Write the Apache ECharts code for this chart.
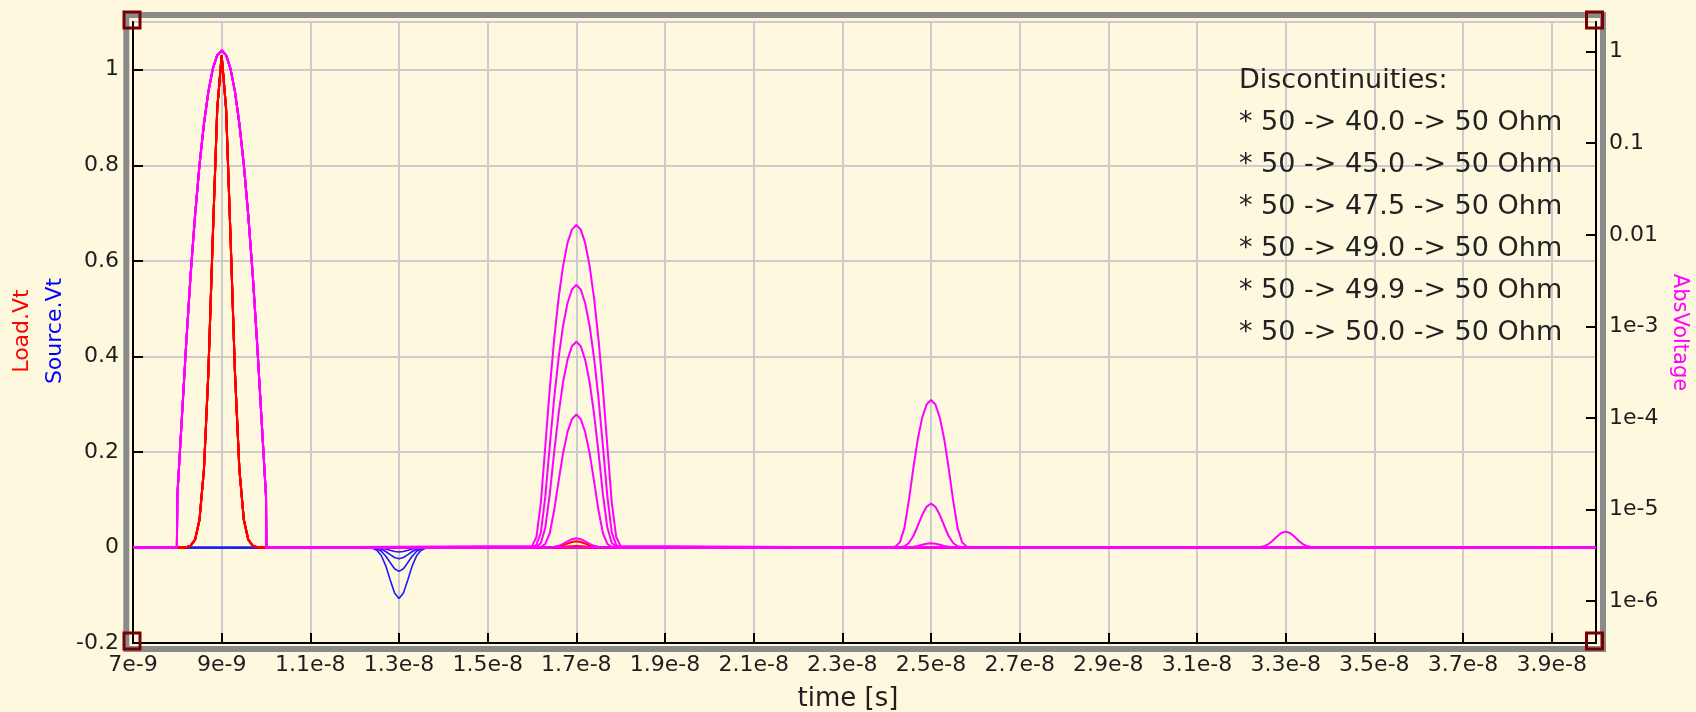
<!DOCTYPE html>
<html>
<head>
<meta charset="utf-8">
<script src="https://cdn.jsdelivr.net/npm/echarts@6/dist/echarts.min.js"></script>
<style>
html,body{margin:0;padding:0;background:#fef8df;}
#c{width:1696px;height:712px;}
</style>
</head>
<body>
<div id="c"></div>
<script>
// ---------- data (time in ns) ----------
const caseLabels = ['40.0', '45.0', '47.5', '49.0', '49.9', '50.0'];
const floorV = 3.85e-6;

const t9    = [8.0,8.1,8.2,8.3,8.4,8.5,8.6,8.7,8.8,8.9,9.0,9.1,9.2,9.3,9.4,9.5,9.6,9.7,9.8,9.9,10.0];
const tAbs9 = [7.99,8.0,8.1,8.2,8.3,8.4,8.5,8.6,8.7,8.8,8.9,9.0,9.1,9.2,9.3,9.4,9.5,9.6,9.7,9.8,9.9,10.0,10.01];
const t13   = [12.4,12.5,12.6,12.7,12.8,12.9,13.0,13.1,13.2,13.3,13.4,13.5,13.6];
const t17   = [16.0,16.1,16.2,16.3,16.4,16.5,16.6,16.7,16.8,16.9,17.0,17.1,17.2,17.3,17.4,17.5,17.6,17.7,17.8,17.9,18.0];
const t25   = [24.0,24.1,24.2,24.3,24.4,24.5,24.6,24.7,24.8,24.9,25.0,25.1,25.2,25.3,25.4,25.5,25.6,25.7,25.8,25.9,26.0];
const t33   = [32.4,32.5,32.6,32.7,32.8,32.9,33.0,33.1,33.2,33.3,33.4,33.5,33.6];

// Load.Vt main pulse (same for all cases)
const loadMain = [1.0e-5,9.2e-5,6.5e-4,3.7e-3,0.0163,0.058,0.163,0.366,0.650,0.918,1.03,0.918,0.650,0.366,0.163,0.058,0.0163,3.7e-3,6.5e-4,9.2e-5,1.0e-5];
// AbsVoltage main pulse
const absMain = [3.85e-6,1.4e-5,9.6e-5,6.5e-4,3.7e-3,0.0163,0.058,0.163,0.366,0.650,0.918,1.03,0.918,0.650,0.366,0.163,0.058,0.0163,3.7e-3,6.5e-4,9.6e-5,1.4e-5,3.85e-6];

// Source.Vt reflections at 13 ns (one row per case)
const src13 = [
  [-0.0017,-0.0060,-0.0169,-0.0380,-0.0675,-0.0953,-0.107,-0.0953,-0.0675,-0.0380,-0.0169,-0.0060,-0.0017],
  [-0.0008,-0.0028,-0.0079,-0.0178,-0.0316,-0.0446,-0.050,-0.0446,-0.0316,-0.0178,-0.0079,-0.0028,-0.0008],
  [-0.0004,-0.0013,-0.0037,-0.0084,-0.0149,-0.0210,-0.0236,-0.0210,-0.0149,-0.0084,-0.0037,-0.0013,-0.0004],
  [-0.0002,-0.0005,-0.0015,-0.0034,-0.0060,-0.0085,-0.0095,-0.0085,-0.0060,-0.0034,-0.0015,-0.0005,-0.0002],
  [0,-0.0001,-0.0002,-0.0004,-0.0006,-0.0009,-0.0010,-0.0009,-0.0006,-0.0004,-0.0002,-0.0001,0],
  []
];

// Load.Vt second arrival at 17 ns
const load17 = [
  [0,0,0,0,0.0002,0.0007,0.0020,0.0045,0.0081,0.0114,0.0128,0.0114,0.0081,0.0045,0.0020,0.0007,0.0002,0,0,0,0],
  [0,0,0,0,0,0.0002,0.0004,0.0010,0.0018,0.0025,0.0028,0.0025,0.0018,0.0010,0.0004,0.0002,0,0,0,0,0],
  [0,0,0,0,0,0,0.0001,0.0002,0.0004,0.0006,0.0007,0.0006,0.0004,0.0002,0.0001,0,0,0,0,0,0],
  [], [], []
];

// AbsVoltage at 17 ns
const abs17 = [
  [3.98e-6,5.0e-6,1.19e-5,4.9e-5,2.06e-4,7.2e-4,2.03e-3,4.55e-3,8.1e-3,0.0114,0.0128,0.0114,8.1e-3,4.55e-3,2.03e-3,7.2e-4,2.06e-4,4.9e-5,1.19e-5,5.0e-6,3.98e-6],
  [3.85e-6,4.1e-6,5.6e-6,1.39e-5,4.9e-5,1.64e-4,4.5e-4,1.01e-3,1.79e-3,2.53e-3,2.84e-3,2.53e-3,1.79e-3,1.01e-3,4.5e-4,1.64e-4,4.9e-5,1.39e-5,5.6e-6,4.1e-6,3.85e-6],
  [3.85e-6,3.9e-6,4.3e-6,6.3e-6,1.46e-5,4.2e-5,1.11e-4,2.45e-4,4.3e-4,6.07e-4,6.8e-4,6.07e-4,4.3e-4,2.45e-4,1.11e-4,4.2e-5,1.46e-5,6.3e-6,4.3e-6,3.9e-6,3.85e-6],
  [3.85e-6,3.85e-6,3.9e-6,4.2e-6,5.5e-6,9.8e-6,2.04e-5,4.1e-5,7.0e-5,9.7e-5,1.09e-4,9.7e-5,7.0e-5,4.1e-5,2.04e-5,9.8e-6,5.5e-6,4.2e-6,3.9e-6,3.85e-6,3.85e-6],
  [3.85e-6,3.85e-6,3.85e-6,3.85e-6,3.85e-6,3.91e-6,4.01e-6,4.21e-6,4.48e-6,4.74e-6,4.85e-6,4.74e-6,4.48e-6,4.21e-6,4.01e-6,3.91e-6,3.85e-6,3.85e-6,3.85e-6,3.85e-6,3.85e-6],
  []
];

// AbsVoltage at 25 ns
const abs25 = [
  [3.85e-6,3.86e-6,3.95e-6,4.4e-6,6.3e-6,1.25e-5,2.8e-5,5.8e-5,1.0e-4,1.40e-4,1.57e-4,1.40e-4,1.0e-4,5.8e-5,2.8e-5,1.25e-5,6.3e-6,4.4e-6,3.95e-6,3.86e-6,3.85e-6],
  [3.85e-6,3.85e-6,3.85e-6,3.88e-6,3.97e-6,4.3e-6,5.1e-6,6.6e-6,8.7e-6,1.07e-5,1.16e-5,1.07e-5,8.7e-6,6.6e-6,5.1e-6,4.3e-6,3.97e-6,3.88e-6,3.85e-6,3.85e-6,3.85e-6],
  [3.85e-6,3.85e-6,3.85e-6,3.85e-6,3.85e-6,3.87e-6,3.92e-6,4.0e-6,4.12e-6,4.23e-6,4.28e-6,4.23e-6,4.12e-6,4.0e-6,3.92e-6,3.87e-6,3.85e-6,3.85e-6,3.85e-6,3.85e-6,3.85e-6],
  [], [], []
];

// AbsVoltage at 33 ns
const abs33 = [
  [3.88e-6,3.96e-6,4.15e-6,4.52e-6,5.04e-6,5.53e-6,5.73e-6,5.53e-6,5.04e-6,4.52e-6,4.15e-6,3.96e-6,3.88e-6],
  [], [], [], [], []
];

const xRange = [7, 40];
const yLeftRange = [-0.2, 1.1];
const yRightRange = [3.48e-7, 2.11];

// ---------- build ----------
function zip(t, v) { return v.length ? t.map((x, i) => [x, v[i]]) : []; }
const FONT = '"DejaVu Sans", "Liberation Sans", sans-serif';

function fmtTime(v) {
  const n = Math.round(v * 10) / 10;
  return n < 10 ? n + 'e-9' : (Math.round(n) / 10) + 'e-8';
}
function fmtAbs(v) {
  const e = Math.round(Math.log10(v));
  if (e >= -2 && e <= 0) return ['1', '0.1', '0.01'][-e];
  return '1e' + e;
}

const series = [];
const lineBase = { type: 'line', showSymbol: false, symbol: 'none', silent: true, animation: false, emphasis: { disabled: true } };
caseLabels.forEach((c, i) => {
  series.push(Object.assign({}, lineBase, {
    name: 'Source.Vt ' + c, yAxisIndex: 0,
    lineStyle: { color: '#1a1aff', width: 1.6 }, itemStyle: { color: '#1a1aff' },
    data: [[xRange[0], 0], ...zip(t13, src13[i]), [xRange[1], 0]]
  }));
});
caseLabels.forEach((c, i) => {
  series.push(Object.assign({}, lineBase, {
    name: 'Load.Vt ' + c, yAxisIndex: 0,
    lineStyle: { color: '#ff0000', width: 2 }, itemStyle: { color: '#ff0000' },
    data: [[xRange[0], 0], ...zip(t9, loadMain), ...zip(t17, load17[i]), [xRange[1], 0]]
  }));
});
caseLabels.forEach((c, i) => {
  series.push(Object.assign({}, lineBase, {
    name: 'AbsVoltage ' + c, yAxisIndex: 1,
    lineStyle: { color: '#ff00ff', width: 2 }, itemStyle: { color: '#ff00ff' },
    data: [[xRange[0], floorV], ...zip(tAbs9, absMain), ...zip(t17, abs17[i]),
           ...zip(t25, abs25[i]), ...zip(t33, abs33[i]), [xRange[1], floorV]]
  }));
});

const legendLines = ['Discontinuities:'].concat(caseLabels.map(c => '* 50 -> ' + c + ' -> 50 Ohm'));

const axisLineStyle = { show: true, onZero: false, lineStyle: { color: '#000', width: 2 } };
const tickStyle = { show: true, inside: true, length: 10, lineStyle: { color: '#000', width: 2 } };
const labelBase = { fontFamily: FONT, fontSize: 22, color: '#1e1e1e' };

function square(cx, cy) {
  return { type: 'rect', silent: true, z: 200, shape: { x: cx - 8, y: cy - 8, width: 16, height: 16 },
           style: { fill: 'none', stroke: '#7a0000', lineWidth: 3 } };
}

const option = {
  backgroundColor: '#fef8df',
  animation: false,
  grid: { left: 133, top: 22, right: 100, bottom: 69, show: true, borderColor: '#000', borderWidth: 2,
          backgroundColor: 'transparent', containLabel: false, outerBoundsMode: 'none' },
  xAxis: {
    type: 'value', min: xRange[0], max: xRange[1], interval: 2,
    name: 'time [s]', nameLocation: 'middle', nameGap: 43,
    nameTextStyle: Object.assign({}, labelBase, { fontSize: 26, padding: [0, 33, 0, 0] }),
    axisLine: axisLineStyle, axisTick: tickStyle,
    axisLabel: Object.assign({}, labelBase, { formatter: fmtTime, margin: 11, showMaxLabel: false }),
    splitLine: { show: true, lineStyle: { color: '#cccccc', width: 2 } }
  },
  yAxis: [
    {
      type: 'value', min: yLeftRange[0], max: yLeftRange[1], interval: 0.2, position: 'left',
      axisLine: axisLineStyle, axisTick: tickStyle,
      axisLabel: Object.assign({}, labelBase, { margin: 14, showMaxLabel: false,
        formatter: v => String(Math.round(v * 10) / 10) }),
      splitLine: { show: true, lineStyle: { color: '#cccccc', width: 2 } }
    },
    {
      type: 'log', logBase: 10, min: yRightRange[0], max: yRightRange[1], position: 'right',
      name: 'AbsVoltage', nameLocation: 'middle', nameRotate: -90, nameGap: 72,
      nameTextStyle: Object.assign({}, labelBase, { fontSize: 21, color: '#ff00ff' }),
      axisLine: axisLineStyle, axisTick: tickStyle,
      axisLabel: Object.assign({}, labelBase, { margin: 13, showMinLabel: false, showMaxLabel: false, formatter: fmtAbs }),
      splitLine: { show: false }
    }
  ],
  graphic: [
    { type: 'rect', silent: true, z: 150, shape: { x: 126.3, y: 15, width: 1476.7, height: 634 },
      style: { fill: 'none', stroke: '#8a8a8a', lineWidth: 6 } },
    square(132, 20), square(1594.5, 20), square(132, 641), square(1594.5, 641),
    { type: 'text', silent: true, x: 22, y: 331, rotation: Math.PI / 2,
      style: { text: 'Load.Vt', fill: '#ff0000', font: '22px ' + FONT, align: 'center', verticalAlign: 'middle',
               textAlign: 'center', textVerticalAlign: 'middle' } },
    { type: 'text', silent: true, x: 55, y: 331, rotation: Math.PI / 2,
      style: { text: 'Source.Vt', fill: '#0000ff', font: '22px ' + FONT, align: 'center', verticalAlign: 'middle',
               textAlign: 'center', textVerticalAlign: 'middle' } },
    { type: 'text', silent: true, x: 1239, y: 59.5, z: 100,
      style: { text: legendLines.join('\n'), fill: '#222', font: '27px ' + FONT, lineHeight: 42,
               align: 'left', verticalAlign: 'top', textAlign: 'left', textVerticalAlign: 'top' } }
  ],
  series: series
};

const chart = echarts.init(document.getElementById('c'), null, { renderer: 'canvas' });
chart.setOption(option);
</script>
</body>
</html>
